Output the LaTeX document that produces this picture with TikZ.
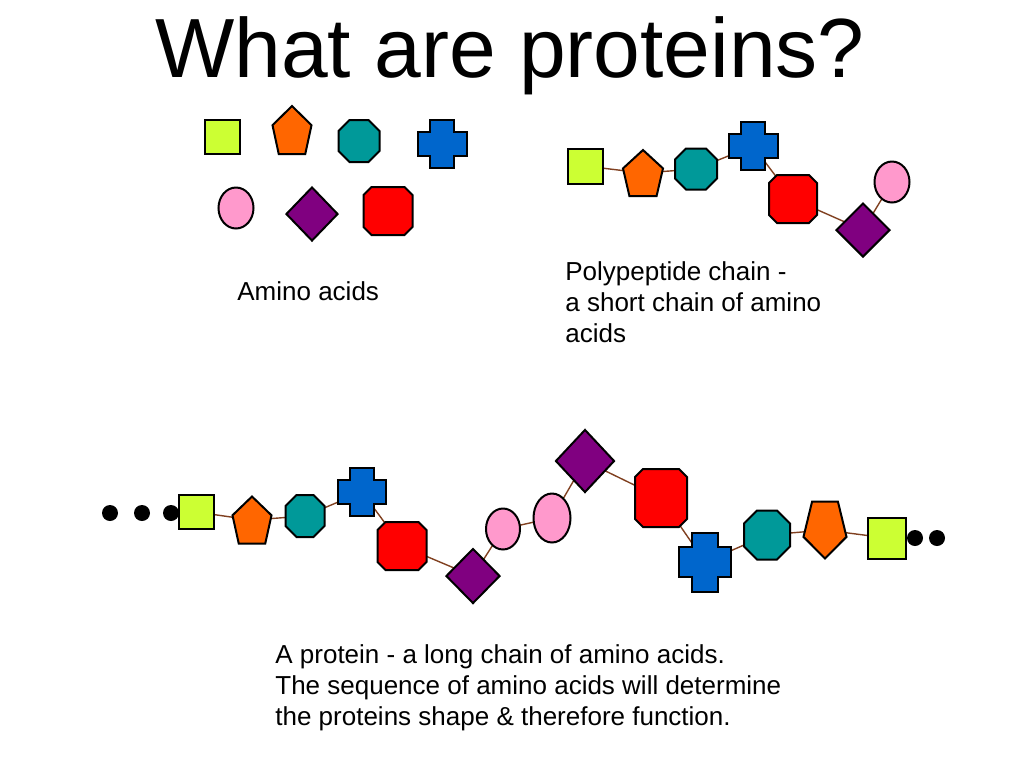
\documentclass[tikz,border=0pt]{standalone}
\usepackage{fontspec}
\setmainfont{Liberation Sans}
\usetikzlibrary{shapes.geometric,backgrounds}
\definecolor{aalime}{HTML}{CCFF33}
\definecolor{aaorange}{HTML}{FF6600}
\definecolor{aateal}{HTML}{009999}
\definecolor{aablue}{HTML}{0066CC}
\definecolor{aapink}{HTML}{FF99CC}
\definecolor{aapurple}{HTML}{800080}
\definecolor{aared}{HTML}{FF0000}
\definecolor{bondbrown}{HTML}{804020}

\begin{document}
\begin{tikzpicture}[x=0.5pt,y=-0.5pt]
\tikzset{aa/.style={draw=black,line width=1pt,inner sep=0pt},
  sqbox/.style 2 args={aa,rectangle,fill=aalime,minimum width=#1,minimum height=#2},
  ovbox/.style 2 args={aa,ellipse,fill=aapink,minimum width=#1,minimum height=#2},
  dmbox/.style 2 args={aa,diamond,fill=aapurple,minimum width=#1,minimum height=#2},
  octbox/.style n args={4}{inner sep=0pt,minimum width=#1+2pt,minimum height=#2+2pt,
    path picture={\filldraw[draw=black,line width=1pt,fill=#4]
      (path picture bounding box.center) ++(-#1/2,#2/2-#3) -- ++(0pt,-#2+2*#3) -- ++(#3,-#3)
      -- ++(#1-2*#3,0pt) -- ++(#3,#3) -- ++(0pt,#2-2*#3) -- ++(-#3,#3) -- ++(-#1+2*#3,0pt) -- cycle;}},
  redbox/.style 2 args={octbox={#1}{#2}{4pt}{aared}},
  tealbox/.style n args={3}{octbox={#1}{#2}{#3}{aateal}},
  crossbox/.style 2 args={inner sep=0pt,minimum width=#1+2pt,minimum height=#2+2pt,
    path picture={\filldraw[draw=black,line width=1pt,fill=aablue]
      (path picture bounding box.center) ++(-#1/2,-#2/4) -- ++(0pt,#2/2) -- ++(#1/4,0pt) -- ++(0pt,#2/4)
      -- ++(#1/2,0pt) -- ++(0pt,-#2/4) -- ++(#1/4,0pt) -- ++(0pt,-#2/2) -- ++(-#1/4,0pt)
      -- ++(0pt,-#2/4) -- ++(-#1/2,0pt) -- ++(0pt,#2/4) -- cycle;}},
  pentbox/.style 2 args={inner sep=0pt,minimum width=#1+2pt,minimum height=#2+2pt,
    path picture={\filldraw[draw=black,line width=1pt,fill=aaorange]
      ([yshift=#2/2]path picture bounding box.center) -- ++(#1/2,-0.4*#2) -- ++(-0.16*#1,-0.6*#2)
      -- ++(-0.68*#1,0pt) -- ++(-0.16*#1,0.6*#2) -- cycle;}},
  pentdown/.style 2 args={inner sep=0pt,minimum width=#1+2pt,minimum height=#2+2pt,
    path picture={\filldraw[draw=black,line width=1pt,fill=aaorange]
      ([yshift=-#2/2]path picture bounding box.center) -- ++(#1/2,0.38*#2) -- ++(-0.2*#1,0.62*#2)
      -- ++(-0.6*#1,0pt) -- ++(-0.2*#1,-0.62*#2) -- cycle;}},
  dot/.style={circle,fill=black,inner sep=0pt,minimum size=8pt},
  bond/.style={draw=bondbrown,line width=0.7pt},
  lbl/.style={font=\fontsize{13}{15.5}\selectfont,inner sep=0pt,align=left}}
\useasboundingbox (0,0) rectangle (1024,768);
\node[anchor=base,inner sep=0pt,font=\fontsize{42}{50}\selectfont] (title) at (510,77) {What are proteins?};

% amino acids
\node[sqbox={17.5pt}{17pt}] (asq) at (222,137) {};
\node[pentbox={19.5pt}{24pt}] (apt) at (292,130) {};
\node[tealbox={20.5pt}{21pt}{5.5pt}] (atl) at (359,141) {};
\node[crossbox={24.5pt}{24pt}] (acr) at (442,144) {};
\node[ovbox={17.5pt}{20.5pt}] (apk) at (236,208) {};
\node[dmbox={26pt}{27pt}] (adm) at (312,214) {};
\node[redbox={24.5pt}{24pt}] (ard) at (388,211) {};
\node[lbl,anchor=base west] (alabel) at (237,300) {Amino acids};

% polypeptide chain
\node[sqbox={17.5pt}{17.5pt}] (psq) at (585,166) {};
\node[pentbox={20pt}{23pt}] (ppt) at (643,173) {};
\node[tealbox={21pt}{20.5pt}{5.5pt}] (ptl) at (696,169) {};
\node[crossbox={24.5pt}{24pt}] (pcr) at (753,146) {};
\node[redbox={24pt}{24pt}] (prd) at (793,199) {};
\node[dmbox={27pt}{27pt}] (pdm) at (863,230) {};
\node[ovbox={17.5pt}{20.5pt}] (ppk) at (892,182) {};
\node[lbl,anchor=base west] (plabel) at (565,342) {Polypeptide chain -\\a short chain of amino\\acids};

% protein
\node[dot] (d1) at (110,513) {};
\node[dot] (d2) at (142,513) {};
\node[dot] (d3) at (171,513) {};
\node[sqbox={17.5pt}{17pt}] (q1) at (196,512) {};
\node[pentbox={19.5pt}{23.5pt}] (q2) at (252,520) {};
\node[tealbox={19.5pt}{21pt}{5.5pt}] (q3) at (305,516) {};
\node[crossbox={24pt}{24pt}] (q4) at (362,492) {};
\node[redbox={24.5pt}{24pt}] (q5) at (402,546) {};
\node[dmbox={27pt}{27.5pt}] (q6) at (473,576) {};
\node[ovbox={17pt}{20.5pt}] (q7) at (503,529) {};
\node[ovbox={18.5pt}{24.5pt}] (q8) at (552,518) {};
\node[dmbox={29.5pt}{31.5pt}] (q9) at (585,461) {};
\node[redbox={26pt}{29pt}] (q10) at (661,498) {};
\node[crossbox={26pt}{29.5pt}] (q11) at (705,562) {};
\node[tealbox={23pt}{24.5pt}{6.5pt}] (q12) at (767,535) {};
\node[pentdown={21.5pt}{28.5pt}] (q13) at (825,530) {};
\node[sqbox={19pt}{20.5pt}] (q14) at (887,538) {};
\node[dot] (d4) at (915,538) {};
\node[dot] (d5) at (937,538) {};
\node[lbl,anchor=base west] (qlabel) at (275,725) {A protein - a long chain of amino acids.\\The sequence of amino acids will determine\\the proteins shape \& therefore function.};

\begin{scope}[on background layer]
\foreach \a/\b in {psq/ppt,ppt/ptl,ptl/pcr,pcr/prd,prd/pdm,pdm/ppk,
    q1/q2,q2/q3,q3/q4,q4/q5,q5/q6,q6/q7,q7/q8,q8/q9,q9/q10,q10/q11,q11/q12,q12/q13,q13/q14}
  \draw[bond] (\a.center) -- (\b.center);
\end{scope}
\end{tikzpicture}
\end{document}
